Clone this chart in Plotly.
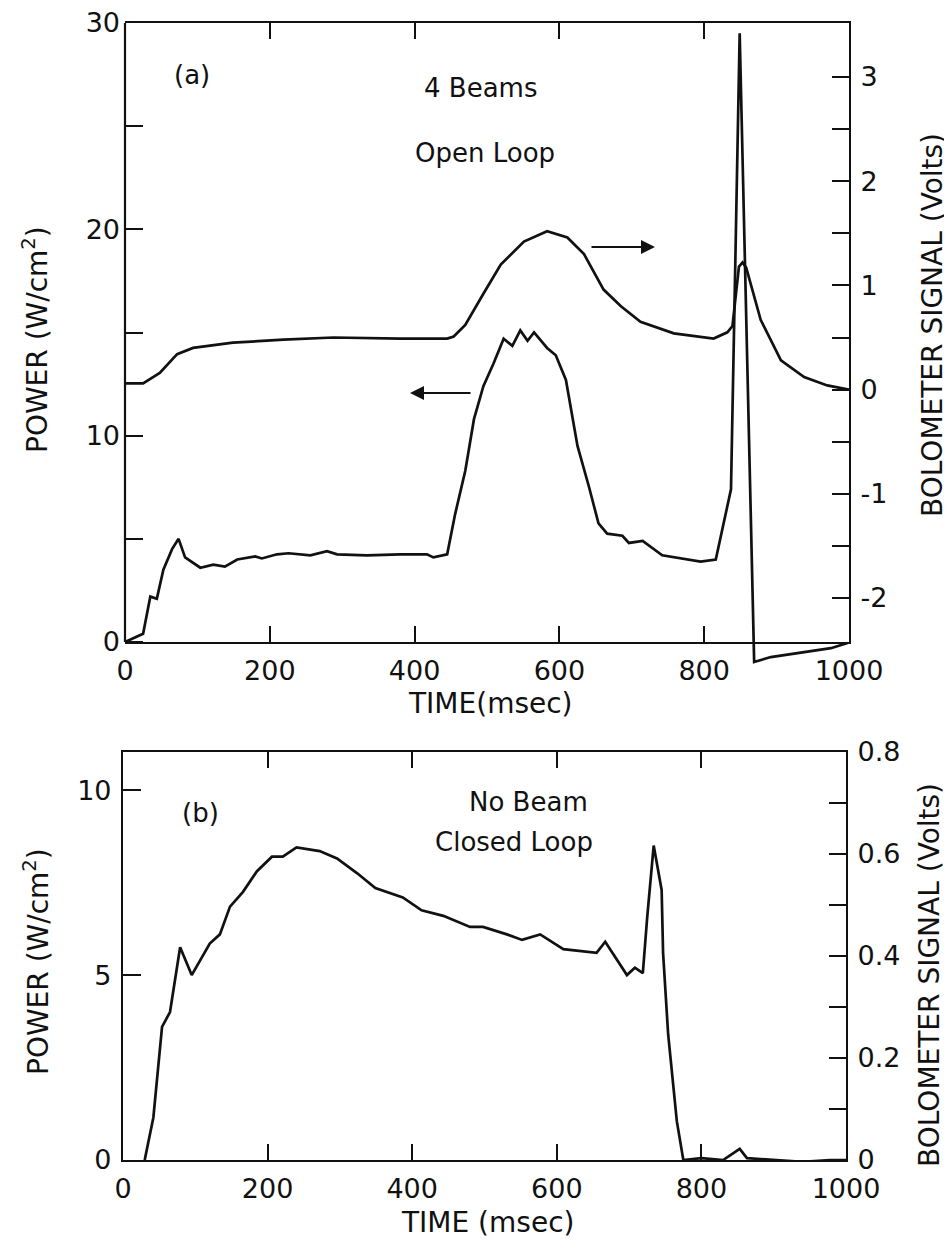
import plotly.graph_objects as go

# ---------------- data ----------------
# Panel (a): power (left axis, W/cm^2)
a_power_t = [0, 25, 35, 44, 53, 65, 74, 83, 104, 122, 138, 155, 180, 189, 210, 226, 256, 279, 293,
             334, 380, 417, 426, 445, 456, 470, 482, 495, 509, 523, 535, 546, 556, 565, 583, 595,
             609, 625, 641, 654, 666, 687, 696, 715, 742, 758, 795, 816, 832, 837, 849, 869, 892,
             938, 975, 998]
a_power_v = [0.0, 0.4, 2.2, 2.1, 3.5, 4.5, 5.0, 4.1, 3.6, 3.75, 3.65, 4.0, 4.15, 4.05, 4.25, 4.3, 4.2,
             4.4, 4.25, 4.2, 4.25, 4.25, 4.1, 4.25, 6.2, 8.3, 10.8, 12.4, 13.5, 14.7, 14.35, 15.1,
             14.6, 15.0, 14.25, 13.9, 12.7, 9.5, 7.5, 5.75, 5.25, 5.15, 4.8, 4.9, 4.2, 4.1, 3.9, 4.0,
             6.5, 7.4, 29.5, -0.97, -0.73, -0.48, -0.3, -0.05]

# Panel (a): bolometer signal (right axis, Volts)
a_bolo_t = [0, 25, 48, 72, 94, 149, 219, 288, 380, 445, 454, 470, 495, 519, 551, 583, 611, 634, 661,
            685, 712, 758, 813, 832, 839, 848, 853, 858, 878, 906, 938, 970, 1000]
a_bolo_v = [0.06, 0.06, 0.16, 0.34, 0.40, 0.45, 0.48, 0.50, 0.49, 0.49, 0.51, 0.62, 0.92, 1.20, 1.42,
            1.52, 1.46, 1.30, 0.96, 0.80, 0.65, 0.54, 0.49, 0.55, 0.61, 1.18, 1.22, 1.17, 0.67, 0.28,
            0.12, 0.04, 0.0]

# Panel (b): power (left axis, W/cm^2)
b_power_t = [30, 42, 54, 65, 79, 95, 120, 134, 148, 166, 185, 206, 221, 240, 272, 296, 324, 349, 387,
             413, 443, 480, 498, 531, 552, 577, 609, 655, 667, 697, 708, 719, 725, 734, 745, 747, 754,
             766, 775, 800, 830, 853, 863, 900, 940, 978, 1000]
b_power_v = [0.0, 1.15, 3.6, 4.0, 5.75, 5.0, 5.85, 6.1, 6.85, 7.25, 7.8, 8.2, 8.2, 8.45, 8.35, 8.15,
             7.75, 7.35, 7.1, 6.75, 6.6, 6.3, 6.3, 6.1, 5.95, 6.1, 5.7, 5.6, 5.9, 5.0, 5.2, 5.05, 6.55,
             8.5, 7.3, 5.6, 3.4, 1.05, 0.0, 0.05, 0.0, 0.3, 0.05, 0.0, -0.05, 0.0, 0.0]

# tick labels
x_ticks = [0, 200, 400, 600, 800, 1000]
a_left_ticks = [0, 5, 10, 15, 20, 25, 30]
a_left_text = ["0", "", "10", "", "20", "", "30"]
a_right_ticks = [-2, -1.5, -1, -0.5, 0, 0.5, 1, 1.5, 2, 2.5, 3]
a_right_text = ["-2", "", "-1", "", "0", "", "1", "", "2", "", "3"]
b_left_ticks = [0, 5, 10]
b_right_ticks = [0, 0.1, 0.2, 0.3, 0.4, 0.5, 0.6, 0.7, 0.8]
b_right_text = ["0", "", "0.2", "", "0.4", "", "0.6", "", "0.8"]

# ---------------- layout geometry ----------------
PAGE_W, PAGE_H = 952, 1246
OFF = 8                      # default body margin of the html page
W, H = PAGE_W - OFF, PAGE_H - OFF
FONT = "DejaVu Sans"
BLACK = "#111111"


def fx(x):
    return (x - OFF) / W


def fy(y):
    return 1 - (y - OFF) / H


A_L, A_R, A_T, A_B = 125, 849, 23, 642
B_L, B_R, B_T, B_B = 123, 846, 752, 1160
A_OVER = 32  # room below panel (a) for the power trace that dips under the axis

a_y_range = [0, 30]
a_y_lo = -a_y_range[1] * A_OVER / (A_B - A_T)

LINE = dict(color=BLACK, width=2.7)

fig = go.Figure()

fig.add_trace(go.Scatter(x=a_bolo_t, y=a_bolo_v, xaxis="x", yaxis="y2", mode="lines",
                         line=LINE, showlegend=False, hoverinfo="skip"))
fig.add_trace(go.Scatter(x=a_power_t, y=a_power_v, xaxis="x", yaxis="y", mode="lines",
                         line=LINE, showlegend=False, hoverinfo="skip"))
fig.add_trace(go.Scatter(x=b_power_t, y=b_power_v, xaxis="x2", yaxis="y3", mode="lines",
                         line=LINE, showlegend=False, hoverinfo="skip"))
# empty trace so the right-hand Volts axis of panel (b) is drawn
fig.add_trace(go.Scatter(x=[], y=[], xaxis="x2", yaxis="y4", mode="lines",
                         showlegend=False, hoverinfo="skip"))

tickfont = dict(family=FONT, size=27, color=BLACK)
common = dict(showgrid=False, zeroline=False, linecolor=BLACK, linewidth=2.2, automargin=False,
              ticks="inside", tickcolor=BLACK, tickwidth=2.2, tickfont=tickfont,
              ticklabeloverflow="allow")

fig.update_layout(
    template="none",
    width=W, height=H, margin=dict(l=0, r=0, t=0, b=0, autoexpand=False),
    paper_bgcolor="white", plot_bgcolor="rgba(0,0,0,0)", showlegend=False,
    # panel (a)
    xaxis=dict(domain=[fx(A_L), fx(A_R)], range=[0, 1000], anchor="y2", tickvals=x_ticks,
               showline=True, mirror="ticks", ticklen=16, ticklabelstandoff=3, **common),
    yaxis2=dict(domain=[fy(A_B), fy(A_T)], range=[-2.422, 3.518], anchor="x", side="right",
                tickvals=a_right_ticks, ticktext=a_right_text, ticklen=17, showline=True,
                ticklabelstandoff=4, **common),
    yaxis=dict(domain=[fy(A_B + A_OVER), fy(A_T)], range=[a_y_lo, a_y_range[1]], anchor="x",
               side="left", tickvals=a_left_ticks, ticktext=a_left_text, ticklen=18,
               showline=False, ticklabelstandoff=4, **common),
    # panel (b)
    xaxis2=dict(domain=[fx(B_L), fx(B_R)], range=[0, 1000], anchor="y3", tickvals=x_ticks,
                showline=True, mirror="ticks", ticklen=16, ticklabelstandoff=3, **common),
    yaxis3=dict(domain=[fy(B_B), fy(B_T)], range=[0, 11.03], anchor="x2", side="left",
                tickvals=b_left_ticks, ticklen=18, showline=True, ticklabelstandoff=4, **common),
    yaxis4=dict(overlaying="y3", anchor="x2", side="right", range=[0, 0.8],
                tickvals=b_right_ticks, ticktext=b_right_text, ticklen=17, showline=True,
                ticklabelstandoff=4, **common),
)

# left frame edge of panel (a) (its power axis extends below the frame for the dip)
fig.add_shape(type="line", xref="paper", yref="paper", x0=fx(A_L), x1=fx(A_L),
              y0=fy(A_B), y1=fy(A_T), line=dict(color=BLACK, width=2.2))

tf = dict(family=FONT, size=28, color=BLACK)
lf = dict(family=FONT, size=26, color=BLACK)


def note(text, x, y, font, angle=0):
    fig.add_annotation(text=text, x=fx(x), y=fy(y), xref="paper", yref="paper",
                       showarrow=False, font=font, textangle=angle,
                       xanchor="center", yanchor="middle")


# axis titles
note("TIME(msec)", 490, 703, tf)
note("TIME (msec)", 487, 1222, tf)
note("POWER (W/cm<sup>2</sup>)", 36, 340, tf, -90)
note("POWER (W/cm<sup>2</sup>)", 36, 962, tf, -90)
note("BOLOMETER SIGNAL (Volts)", 932, 325, tf, -90)
note("BOLOMETER SIGNAL (Volts)", 929, 975, tf, -90)

# in-plot labels
note("(a)", 192, 75, lf)
note("4 Beams", 480, 88, lf)
note("Open Loop", 485, 153, lf)
note("(b)", 200, 813, lf)
note("No Beam", 528, 802, lf)
note("Closed Loop", 514, 842, lf)

# arrows
for head_x, tail_x, y in [(655, 590, 247), (410, 472, 393)]:
    fig.add_annotation(x=fx(head_x), y=fy(y), xref="paper", yref="paper",
                       ax=tail_x - head_x, ay=0, axref="pixel", ayref="pixel",
                       showarrow=True, arrowhead=2, arrowsize=1.4, arrowwidth=2,
                       arrowcolor=BLACK, text="")

fig.write_html("out.html")
